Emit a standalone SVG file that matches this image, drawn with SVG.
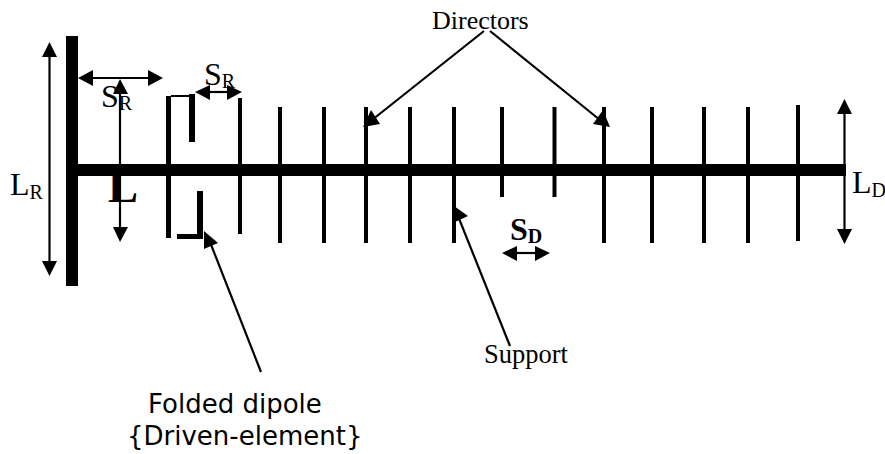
<svg xmlns="http://www.w3.org/2000/svg" width="885" height="454" viewBox="0 0 885 454">
<style>
.bar{fill:#000}
.el{stroke:#000;stroke-width:4;fill:none}
.a{stroke:#000;stroke-width:2.2;fill:none}
.h{fill:#000}
text{font-family:"Liberation Serif","Times New Roman",serif;fill:#000}
.t{font-size:32px}
.sub{font-size:20px}
.v{font-family:"DejaVu Sans",Verdana,sans-serif;font-size:26px}
</style>
<rect width="885" height="454" fill="#fff"/>
<g id="antenna">
<rect id="reflector" class="bar" x="66" y="36" width="12" height="250"/>
<rect id="boom" class="bar" x="78" y="164" width="768" height="12"/>
<g id="folded-dipole">
<rect class="bar" x="166" y="96" width="5" height="142"/>
<rect class="bar" x="171" y="95" width="20" height="2"/>
<rect class="bar" x="189" y="94" width="6" height="48"/>
<rect class="bar" x="197" y="191" width="6" height="48"/>
<rect class="bar" x="177" y="234" width="26" height="5"/>
</g>
<g id="directors">
<path class="el" d="M240 98V234M280 107V243M324 107V243M366 107V243M410 107V243M454 107V243M502 107V197M554.500 107V197M604 107V243M652 107V243M704 107V243M748 107V243M798 105V241"/>
</g>
</g>
<g id="connectors">
<path class="a" d="M49.500 54V264"/><path class="h" d="M49.500 42L42 57H57ZM49.500 276L42 261H57Z"/>
<path class="a" d="M90 78H150"/><path class="h" d="M78 78L93 70V86ZM163 78L148 70V86Z"/>
<path class="a" d="M120 90V232"/><path class="h" d="M120 79L113 94H128ZM120 242L113 227H128Z"/>
<path class="a" d="M204 92H232"/><path class="h" d="M195 92L210 85V100ZM242 92L227 85V100Z"/>
<path class="a" d="M514 253H540"/><path class="h" d="M502 253L517 246V261ZM550 253L535 246V261Z"/>
<path class="a" d="M844.500 110V234"/><path class="h" d="M844.500 99L837 114H852ZM844.500 244L837 229H852Z"/>
<path class="a" d="M484 31L372 120"/><path class="h" d="M363 127L371 110L380 124Z"/>
<path class="a" d="M490 31L600 120"/><path class="h" d="M610 127L593 124L603 110Z"/>
<path class="a" d="M510 346L458 216"/><path class="h" d="M454 206L468 216L455 222Z"/>
<path class="a" d="M261 372L210 242"/><path class="h" d="M204 231L218 243L204 249Z"/>
</g>
<g id="labels">
<text x="432" y="29" font-size="26">Directors</text>
<text class="t" x="101" y="107">S<tspan class="sub" dy="3">R</tspan></text>
<text class="t" x="204" y="85">S<tspan class="sub" dy="3">R</tspan></text>
<text class="t" x="10" y="195">L<tspan class="sub" dy="4">R</tspan></text>
<text x="108" y="202" font-size="45" font-weight="bold">L</text>
<text class="t" x="510" y="240" font-weight="bold">S<tspan class="sub" dy="3">D</tspan></text>
<text class="t" x="852" y="193">L<tspan class="sub" dy="4">D</tspan></text>
<text x="484" y="363" font-size="26.500">Support</text>
<text class="v" x="148" y="413">Folded dipole</text>
<text class="v" x="127" y="445">{Driven-element}</text>
</g>
</svg>
